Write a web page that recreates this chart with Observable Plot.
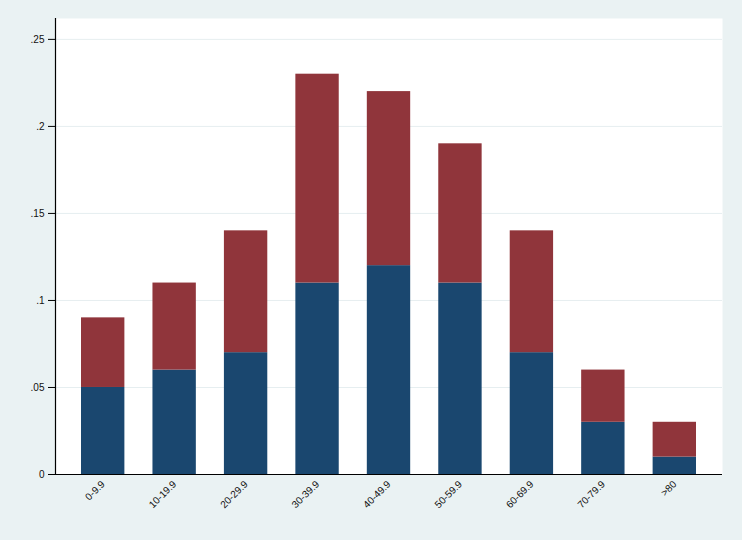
<!DOCTYPE html>
<html><head><meta charset="utf-8">
<script src="https://cdn.jsdelivr.net/npm/d3@7"></script>
<script src="https://cdn.jsdelivr.net/npm/@observablehq/plot@0.6"></script>
<style>html,body{margin:0;padding:0;background:#EAF2F3;} #chart svg{display:block;}</style>
</head><body><div id="chart"></div>
<script>
const categories = ["0-9.9","10-19.9","20-29.9","30-39.9","40-49.9","50-59.9","60-69.9","70-79.9",">80"];
const seriesNames = ["lower","upper"];
const lowerValues = [0.05,0.06,0.07,0.11,0.12,0.11,0.07,0.03,0.01];
const upperValues = [0.04,0.05,0.07,0.12,0.10,0.08,0.07,0.03,0.02];
const yTicks = [0,0.05,0.1,0.15,0.2,0.25];
const yTickLabels = ["0",".05",".1",".15",".2",".25"];

const data = categories.flatMap((c,i)=>[
  {category:c, series:seriesNames[0], value:lowerValues[i]},
  {category:c, series:seriesNames[1], value:upperValues[i]}
]);

const chart = Plot.plot({
  width:742, height:540,
  marginLeft:55, marginRight:20, marginTop:18, marginBottom:66,
  style:{background:"transparent", fontFamily:"'Liberation Sans', Arial, sans-serif", fontSize:"10px", color:"#000"},
  x:{domain:categories, paddingInner:0.393, paddingOuter:0.364, round:false, label:null},
  y:{domain:[0,0.262], label:null},
  color:{domain:seriesNames, range:["#1A476F","#90353B"]},
  marks:[
    Plot.frame({fill:"white", stroke:"none"}),
    Plot.ruleY(yTicks.slice(1), {stroke:"#E6EEF0", strokeWidth:1}),
    Plot.barY(data, {x:"category", y:"value", fill:"series"}),
    Plot.ruleY([0], {stroke:"#000", strokeWidth:1.2}),
    Plot.frame({anchor:"left", stroke:"#000", strokeWidth:1.2}),
    Plot.axisY({ticks:yTicks, tickFormat:d=>yTickLabels[yTicks.indexOf(d)], tickSize:7, tickPadding:4, stroke:"#000", fill:"#111", fontSize:10}),
    Plot.axisX({tickSize:0, tickRotate:-45, tickPadding:8, textAnchor:"end", fill:"#111", fontSize:10})
  ]
});
document.getElementById("chart").appendChild(chart);
</script>
</body></html>
